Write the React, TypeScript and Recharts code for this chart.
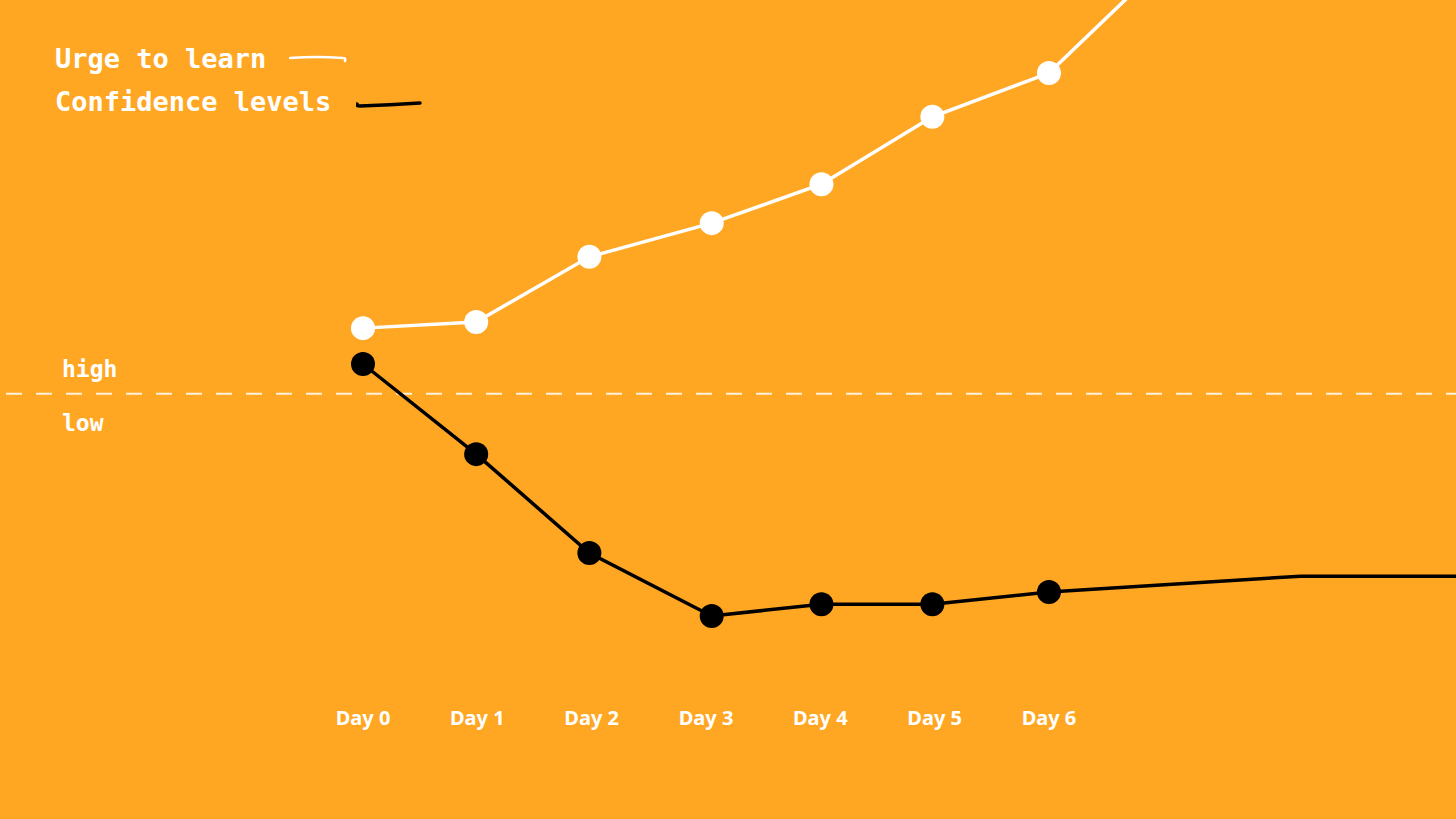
import React from 'react';
import { LineChart, Line, XAxis, YAxis, ReferenceLine, Legend, Label } from 'recharts';

const dayTicks = [0, 1, 2, 3, 4, 5, 6];
const dayLabels = ['Day 0', 'Day 1', 'Day 2', 'Day 3', 'Day 4', 'Day 5', 'Day 6'];

// Urge to learn (white)
const urgeX = [0, 0.99, 1.98, 3.05, 4.01, 4.98, 6, 7.12];
const urgeY = [1.5, 1.64, 3.13, 3.9, 4.79, 6.33, 7.33, 10.14];

// Confidence levels (black)
const confX = [0, 0.99, 1.98, 3.05, 4.01, 4.98, 6, 8.2, 10];
const confY = [0.68, -1.38, -3.64, -5.08, -4.81, -4.81, -4.53, -4.17, -4.17];

const markedCount = 7;

const urgeData = urgeX.map((x, i) => ({ x, v: urgeY[i] }));
const confData = confX.map((x, i) => ({ x, v: confY[i] }));

const BG = '#FFA723';
const MONO = '"DejaVu Sans Mono", "Liberation Mono", monospace';

const makeDot = (color: string) => (props: any) => {
  const { cx, cy, index } = props;
  if (index >= markedCount || cx == null || cy == null) return <g key={`d-${color}-${index}`} />;
  return <circle key={`d-${color}-${index}`} cx={cx} cy={cy} r={12} fill={color} stroke="none" />;
};

const DayTick = (props: any) => {
  const { x, y, payload } = props;
  return (
    <text
      x={x}
      y={y}
      dy={17}
      textAnchor="middle"
      fill="#fff"
      fontFamily='"Noto Sans", sans-serif'
      fontWeight={700}
      fontSize={20}
    >
      {dayLabels[payload.value]}
    </text>
  );
};

const LegendContent = () => (
  <div style={{ fontFamily: MONO, fontWeight: 700, fontSize: 27, color: '#fff' }}>
    <div style={{ height: 43, lineHeight: '43px', display: 'flex', alignItems: 'center', whiteSpace: 'pre' }}>
      <span>Urge to learn</span>
      <svg width={60} height={12} style={{ marginLeft: 23 }}>
        <path d="M1 5 Q 28 3 54 5 Q 57 5 56 8" stroke="#fff" strokeWidth={2.5} fill="none" strokeLinecap="round" />
      </svg>
    </div>
    <div style={{ height: 43, lineHeight: '43px', display: 'flex', alignItems: 'center', whiteSpace: 'pre' }}>
      <span>Confidence levels</span>
      <svg width={68} height={14} style={{ marginLeft: 25, marginTop: 6 }}>
        <path d="M1 6 Q 0 8 4 8 Q 34 7 64 5" stroke="#000" strokeWidth={3.5} fill="none" strokeLinecap="round" />
      </svg>
    </div>
  </div>
);

const ThresholdLabel = (props: any) => {
  const vb = props.viewBox || {};
  const x0 = vb.x ?? 0;
  const y0 = vb.y ?? 0;
  return (
    <g>
      <text x={x0 + 62} y={y0 - 17} fill="#fff" fontFamily={MONO} fontWeight={700} fontSize={23}>
        high
      </text>
      <text x={x0 + 62} y={y0 + 37} fill="#fff" fontFamily={MONO} fontWeight={700} fontSize={23}>
        low
      </text>
    </g>
  );
};

export default function App() {
  return (
    <div
      style={{
        position: 'fixed',
        top: 0,
        left: 0,
        width: 1456,
        height: 819,
        overflow: 'hidden',
        background: BG,
      }}
    >
      <LineChart width={1456} height={819} margin={{ top: 0, right: 0, bottom: 0, left: 0 }}>
        <XAxis
          type="number"
          dataKey="x"
          domain={[-3.175, 9.56]}
          allowDataOverflow
          ticks={dayTicks}
          interval={0}
          axisLine={false}
          tickLine={false}
          height={119}
          tick={<DayTick />}
        />
        <YAxis type="number" dataKey="v" domain={[-7, 9]} allowDataOverflow hide />
        <Legend
          verticalAlign="middle"
          align="center"
          layout="vertical"
          content={<LegendContent />}
          wrapperStyle={{ position: 'absolute', top: 37, left: 55, width: 'auto' }}
        />
        <ReferenceLine y={0} stroke="#FFF1DA" strokeWidth={2} strokeDasharray="16 14" strokeDashoffset={-6}>
          <Label content={<ThresholdLabel />} />
        </ReferenceLine>
        <Line
          data={urgeData}
          dataKey="v"
          type="linear"
          stroke="#fff"
          strokeWidth={3.5}
          dot={makeDot('#fff')}
          activeDot={false}
          isAnimationActive={false}
        />
        <Line
          data={confData}
          dataKey="v"
          type="linear"
          stroke="#000"
          strokeWidth={3.5}
          dot={makeDot('#000')}
          activeDot={false}
          isAnimationActive={false}
        />
      </LineChart>
    </div>
  );
}
